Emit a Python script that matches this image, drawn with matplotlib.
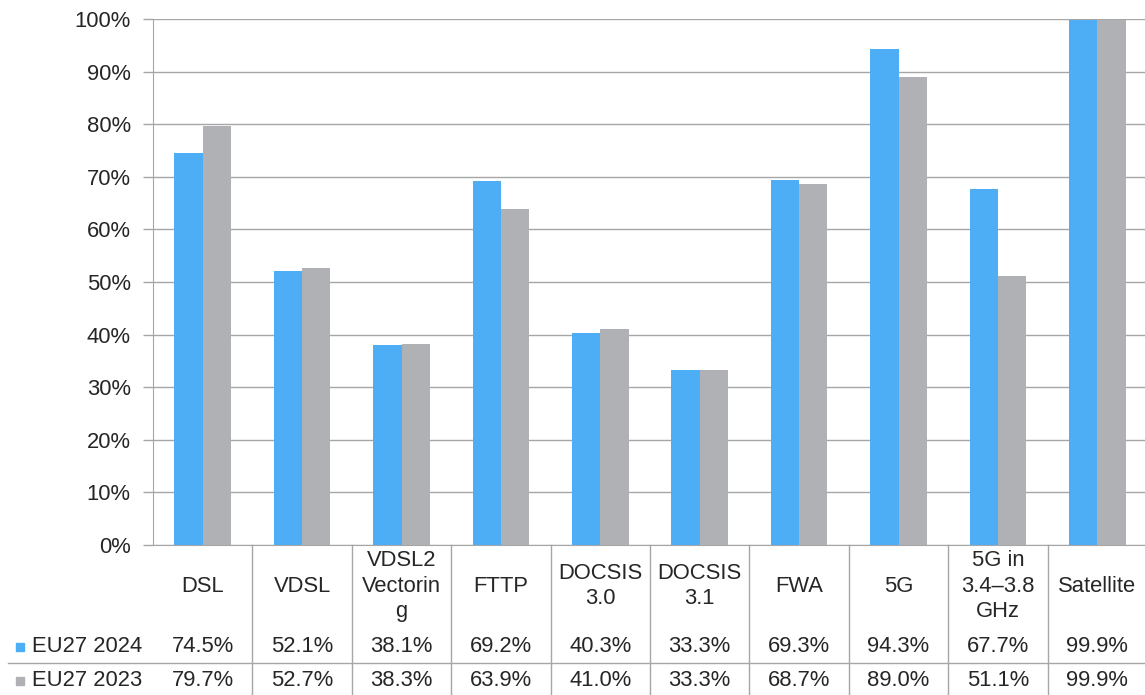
import numpy as np
import matplotlib.pyplot as plt
from matplotlib.transforms import blended_transform_factory

plt.rcParams['font.family'] = ['Liberation Sans', 'DejaVu Sans']

categories = ['DSL', 'VDSL', 'VDSL2\nVectorin\ng', 'FTTP', 'DOCSIS\n3.0', 'DOCSIS\n3.1',
              'FWA', '5G', '5G in\n3.4\u20133.8\nGHz', 'Satellite']
eu_2024 = [74.5, 52.1, 38.1, 69.2, 40.3, 33.3, 69.3, 94.3, 67.7, 99.9]
eu_2023 = [79.7, 52.7, 38.3, 63.9, 41.0, 33.3, 68.7, 89.0, 51.1, 99.9]
series_names = ['EU27 2024', 'EU27 2023']

blue = '#4daef5'
grey = '#b0b1b5'
line_col = '#a6a6a6'
txt_col = '#262626'
fs = 15.8

W, H = 1145, 695
fig = plt.figure(figsize=(W / 100, H / 100), dpi=100)
ax = fig.add_axes([153 / W, (H - 545) / H, (1147 - 153) / W, (545 - 19) / H])

x = np.arange(len(categories)) + 0.5
bw = 0.285
ax.bar(x - bw / 2, eu_2024, bw, color=blue, zorder=3)
ax.bar(x + bw / 2, eu_2023, bw, color=grey, zorder=3)

ax.set_xlim(0, len(categories))
ax.set_ylim(0, 100)
ax.set_yticks(np.arange(0, 101, 10))
ax.set_yticklabels([f'{v}%' for v in range(0, 101, 10)])
ax.tick_params(axis='y', length=7, width=1, color=line_col, pad=9, labelsize=fs, labelcolor=txt_col)
ax.set_xticks([])
ax.grid(axis='y', color=line_col, linewidth=1, zorder=0)
for s in ['top', 'right']:
    ax.spines[s].set_visible(False)
ax.spines['left'].set_color(line_col)
ax.spines['bottom'].set_color(line_col)

# data table under the plot, in pixel rows
def ypix(py):
    return (H - py) / H

tr = blended_transform_factory(ax.transData, fig.transFigure)
for i in range(1, len(categories)):
    ax.plot([i, i], [ypix(545), ypix(H)], color=line_col, lw=1, transform=tr, clip_on=False)
fig.add_artist(plt.Line2D([8 / W, 1], [ypix(663), ypix(663)], color=line_col, lw=1))

for i, cat in enumerate(categories):
    ax.text(x[i], ypix(586), cat, transform=tr, ha='center', va='center',
            fontsize=fs, color=txt_col, linespacing=1.3)
    ax.text(x[i], ypix(647), f'{eu_2024[i]:.1f}%', transform=tr, ha='center', va='center',
            fontsize=fs, color=txt_col)
    ax.text(x[i], ypix(681), f'{eu_2023[i]:.1f}%', transform=tr, ha='center', va='center',
            fontsize=fs, color=txt_col)

# legend keys in the row headers
for name, col, py in zip(series_names, [blue, grey], [647, 681]):
    fig.add_artist(plt.Rectangle((16 / W, ypix(py + 4)), 8 / W, 8 / H, color=col,
                                 transform=fig.transFigure))
    fig.text(32 / W, ypix(py), name, ha='left', va='center', fontsize=fs, color=txt_col)

fig.savefig('out.png', dpi=100)
